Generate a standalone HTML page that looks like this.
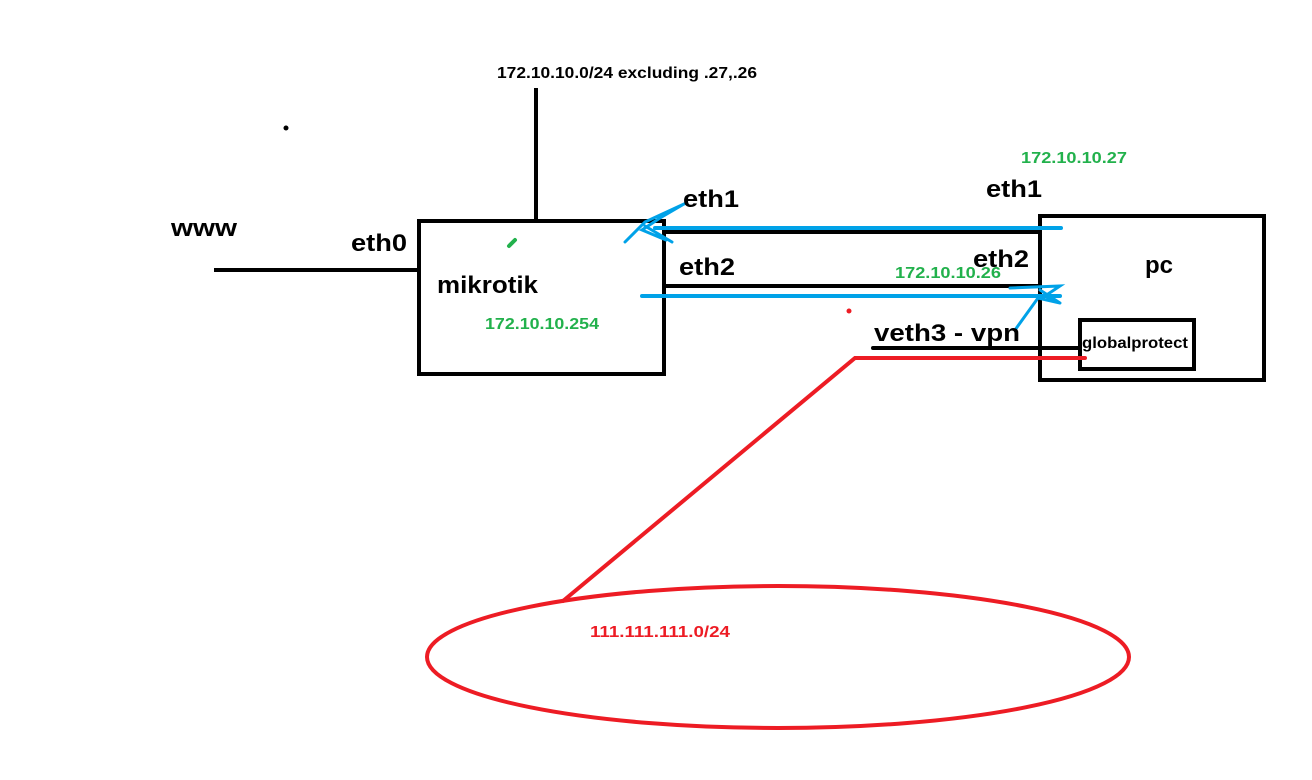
<!DOCTYPE html>
<html><head><meta charset="utf-8"><style>
html,body{margin:0;padding:0;background:#fff;width:1312px;height:780px;overflow:hidden}
svg{display:block}
text{font-family:"Liberation Sans",sans-serif;font-weight:bold}
</style></head><body>
<svg width="1312" height="780" viewBox="0 0 1312 780" xmlns="http://www.w3.org/2000/svg">
<rect width="1312" height="780" fill="#fff"/>
<text x="497" y="78" font-size="16" fill="#000" textLength="260" lengthAdjust="spacingAndGlyphs">172.10.10.0/24 excluding .27,.26</text>
<line x1="536" y1="88" x2="536" y2="220" stroke="#000" stroke-width="4"/>
<circle cx="286" cy="128" r="2.5" fill="#000"/>
<text x="171" y="236" font-size="24" fill="#000" textLength="66" lengthAdjust="spacingAndGlyphs">www</text>
<text x="351" y="251" font-size="24" fill="#000" textLength="56" lengthAdjust="spacingAndGlyphs">eth0</text>
<line x1="214" y1="270" x2="420" y2="270" stroke="#000" stroke-width="4"/>
<rect x="419" y="221" width="245" height="153" fill="none" stroke="#000" stroke-width="4"/>
<line x1="509" y1="246" x2="515" y2="240" stroke="#22b14c" stroke-width="4" stroke-linecap="round"/>
<text x="437" y="293" font-size="24" fill="#000" textLength="101" lengthAdjust="spacingAndGlyphs">mikrotik</text>
<text x="485" y="329" font-size="16" fill="#22b14c" textLength="114" lengthAdjust="spacingAndGlyphs">172.10.10.254</text>
<rect x="1040" y="216" width="224" height="164" fill="none" stroke="#000" stroke-width="4"/>
<text x="1145" y="273" font-size="24" fill="#000" textLength="28" lengthAdjust="spacingAndGlyphs">pc</text>
<rect x="1080" y="320" width="114" height="49" fill="none" stroke="#000" stroke-width="4"/>
<text x="1082" y="348" font-size="16" fill="#000" textLength="106" lengthAdjust="spacingAndGlyphs">globalprotect</text>
<line x1="664" y1="232" x2="1040" y2="232" stroke="#000" stroke-width="4"/>
<line x1="664" y1="286" x2="1040" y2="286" stroke="#000" stroke-width="4"/>
<line x1="655" y1="228" x2="1061" y2="228" stroke="#00a2e8" stroke-width="4" stroke-linecap="round"/>
<line x1="642" y1="296" x2="1060" y2="296" stroke="#00a2e8" stroke-width="4" stroke-linecap="round"/>
<path d="M684 204 L645 222 L625 242 M684 204 L660 218 L642 230 L666 240 M645 226 L672 242" fill="none" stroke="#00a2e8" stroke-width="3" stroke-linecap="round"/>
<path d="M1010 288 L1060 286 L1045 296 L1060 303 L1040 290 M1060 303 L1038 298 L1015 330" fill="none" stroke="#00a2e8" stroke-width="3" stroke-linecap="round"/>
<text x="683" y="207" font-size="24" fill="#000" textLength="56" lengthAdjust="spacingAndGlyphs">eth1</text>
<text x="986" y="197" font-size="24" fill="#000" textLength="56" lengthAdjust="spacingAndGlyphs">eth1</text>
<text x="1021" y="163" font-size="16" fill="#22b14c" textLength="106" lengthAdjust="spacingAndGlyphs">172.10.10.27</text>
<text x="679" y="275" font-size="24" fill="#000" textLength="56" lengthAdjust="spacingAndGlyphs">eth2</text>
<text x="973" y="267" font-size="24" fill="#000" textLength="56" lengthAdjust="spacingAndGlyphs">eth2</text>
<text x="895" y="278" font-size="16" fill="#22b14c" textLength="106" lengthAdjust="spacingAndGlyphs">172.10.10.26</text>
<text x="874" y="341" font-size="24" fill="#000" textLength="146" lengthAdjust="spacingAndGlyphs">veth3  - vpn</text>
<line x1="873" y1="348" x2="1080" y2="348" stroke="#000" stroke-width="4" stroke-linecap="round"/>
<circle cx="849" cy="311" r="2.5" fill="#ed1c24"/>
<polyline points="1085,358 855,358 563,601" fill="none" stroke="#ed1c24" stroke-width="4" stroke-linecap="round"/>
<ellipse cx="778" cy="657" rx="351" ry="71" fill="none" stroke="#ed1c24" stroke-width="4"/>
<text x="590" y="637" font-size="16" fill="#ed1c24" textLength="140" lengthAdjust="spacingAndGlyphs">111.111.111.0/24</text>
</svg>
</body></html>
